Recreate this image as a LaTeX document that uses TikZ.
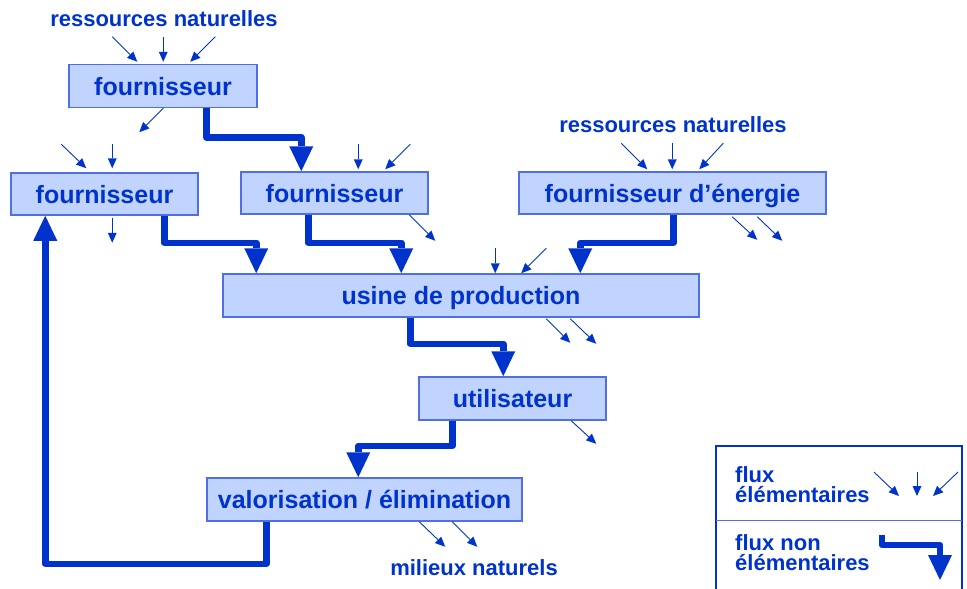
\documentclass[tikz,border=0pt]{standalone}
\usepackage{fontspec}
\setmainfont{Liberation Sans}
\usetikzlibrary{arrows.meta,calc}
\definecolor{tblue}{RGB}{0,51,204}
\definecolor{bfill}{RGB}{192,212,255}
\definecolor{bdraw}{RGB}{80,110,230}
\begin{document}
\begin{tikzpicture}[x=1pt,y=-1pt,
  box/.style={draw=bdraw, line width=1.5pt, fill=bfill, minimum height=43pt, inner sep=0pt,
    text height=18pt, text depth=0pt, font=\fontsize{25}{30}\selectfont\bfseries, text=tblue},
  flow/.style={draw=tblue, line width=6.5pt, line join=round,
    -{Triangle[length=25pt,width=24pt,line width=0pt]}},
  el/.style={draw=tblue, line width=0.9pt, -{Triangle[length=10pt,width=9pt,line width=0pt]}},
  lbl/.style={font=\fontsize{22}{20}\selectfont\bfseries, text=tblue, inner sep=0pt}]
\useasboundingbox (0,0) rectangle (967,589);

% boxes
\node[box, minimum width=188pt] (f1) at (163,86) {fournisseur};
\node[box, minimum width=187pt, minimum height=42pt] (f2) at (104.5,194) {fournisseur};
\node[box, minimum width=187pt, minimum height=42pt] (f3) at (334.5,193) {fournisseur};
\node[box, minimum width=307pt, minimum height=42pt] (fe) at (672.5,193) {fournisseur d’énergie};
\node[box, minimum width=476pt] (usine) at (461,295.5) {usine de production};
\node[box, minimum width=187pt] (util) at (512.5,398.5) {utilisateur};
\node[box, minimum width=315pt] (valo) at (364.5,499.5) {valorisation / élimination};

% labels
\node[lbl, anchor=base] (rn1) at (164,26) {ressources naturelles};
\node[lbl, anchor=base] (rn2) at (673,132) {ressources naturelles};
\node[lbl, anchor=base] (mn) at (474,575) {milieux naturels};

% non-elementary flows
\draw[flow] ([xshift=138pt]f1.south west) -- ++(0,29) -| ([xshift=61pt]f3.north west);
\draw[flow] ([xshift=154pt]f2.south west) -- ++(0,27) -| ([xshift=34pt]usine.north west);
\draw[flow] ([xshift=68pt]f3.south west) -- ++(0,28) -| ([xshift=179pt]usine.north west);
\draw[flow] ([xshift=155pt]fe.south west) -- ++(0,28) -| ([xshift=358pt]usine.north west);
\draw[flow] ([xshift=188pt]usine.south west) -- ++(0,26) -| ([xshift=85pt]util.north west);
\draw[flow] ([xshift=34pt]util.south west) -- ++(0,25) -| ([xshift=152pt]valo.north west);
\draw[flow] ([xshift=60pt]valo.south west) -- ++(0,42) -| ([xshift=35pt]f2.south west);

% elementary flows
\draw[el] ($(f1.north west)+(44,-27)$) -- ++(25,25);
\draw[el] ($(f1.north west)+(95,-27)$) -- ++(0,25);
\draw[el] ($(f1.north west)+(147,-27)$) -- ++(-25,25);
\draw[el] ($(f1.south west)+(95,0)$) -- ++(-24,24);

\draw[el] ($(f2.north west)+(51,-28)$) -- ++(25,24);
\draw[el] ($(f2.north west)+(102,-28)$) -- ++(0,24);
\draw[el] ($(f2.south west)+(102,2)$) -- ++(0,25);

\draw[el] ($(f3.north west)+(118,-27)$) -- ++(0,25);
\draw[el] ($(f3.north west)+(170,-27)$) -- ++(-25,25);
\draw[el] ($(f3.south west)+(169,0)$) -- ++(26,26);

\draw[el] ($(fe.north west)+(103,-28)$) -- ++(26,26);
\draw[el] ($(fe.north west)+(154,-28)$) -- ++(0,26);
\draw[el] ($(fe.north west)+(205,-28)$) -- ++(-24,26);
\draw[el] ($(fe.south west)+(214,2)$) -- ++(25,23);
\draw[el] ($(fe.south west)+(239,2)$) -- ++(25,24);

\draw[el] ($(usine.north west)+(273,-25)$) -- ++(0,25);
\draw[el] ($(usine.north west)+(324,-25)$) -- ++(-25,25);
\draw[el] ($(usine.south west)+(324,1)$) -- ++(24,24);
\draw[el] ($(usine.south west)+(348,1)$) -- ++(26,25);

\draw[el] ($(util.south west)+(153,0)$) -- ++(25,23);

\draw[el] ($(valo.south west)+(213,0)$) -- ++(26,25);
\draw[el] ($(valo.south west)+(246,0)$) -- ++(25,25);

% legend
\draw[draw=tblue, line width=2pt] (716,600) |- (962,446) -- (962,600);
\draw[draw=bdraw, line width=1pt] (716,520) -- (962,520);
\node[lbl, anchor=north west, align=left] (lg1) at (735,466) {flux\\élémentaires};
\node[lbl, anchor=north west, align=left] (lg2) at (735,534) {flux non\\élémentaires};
\coordinate (la1) at (874,472);
\coordinate (la2) at (917,472);
\coordinate (la3) at (958,472);
\draw[el] (la1) -- ++(25,24);
\draw[el] (la2) -- ++(0,24);
\draw[el] (la3) -- ++(-25,24);
\coordinate (lgs) at (882,535);
\coordinate (lge) at (940,580);
\draw[flow] (lgs) -- ++(0,10) -| (lge);
\end{tikzpicture}
\end{document}
